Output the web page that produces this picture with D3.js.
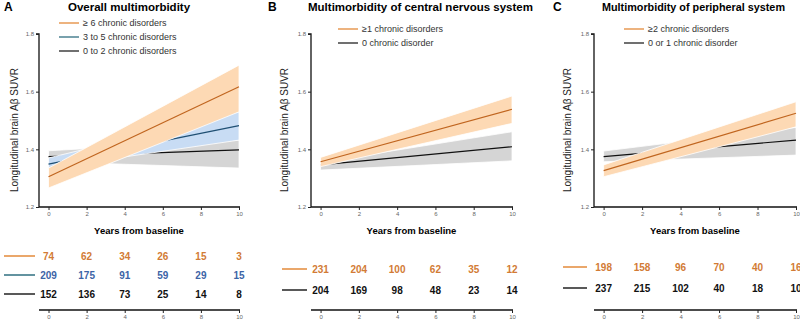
<!DOCTYPE html>
<html>
<head>
<meta charset="utf-8">
<script src="https://cdn.jsdelivr.net/npm/d3@7"></script>
<style>
  body { margin: 0; background: #fff; }
  svg { display: block; font-family: Arial, "Liberation Sans", sans-serif; }
</style>
</head>
<body>
<div id="chart"></div>
<script>
// ---- data ----
var years = [0, 2, 4, 6, 8, 10];
var yTicks = [1.2, 1.4, 1.6, 1.8];

var panelLetters = ["A", "B", "C"];
var panelTitles = ["Overall multimorbidity",
                   "Multimorbidity of central nervous system",
                   "Multimorbidity of peripheral system"];

// legend labels, panel by panel
var legendA = ["\u2265 6 chronic disorders", "3 to 5 chronic disorders", "0 to 2 chronic disorders"];
var legendB = ["\u22651 chronic disorders", "0 chronic disorder"];
var legendC = ["\u22652 chronic disorders", "0 or 1 chronic disorder"];

// fitted SUVR at year 0 and year 10, [line, lower, upper]
var fitA_high = { start: [1.305, 1.266, 1.335], end: [1.617, 1.530, 1.692] };
var fitA_mid  = { start: [1.349, 1.335, 1.370], end: [1.482, 1.432, 1.530] };
var fitA_low  = { start: [1.375, 1.357, 1.395], end: [1.398, 1.335, 1.432] };
var fitB_high = { start: [1.357, 1.340, 1.372], end: [1.539, 1.490, 1.585] };
var fitB_low  = { start: [1.346, 1.328, 1.355], end: [1.409, 1.360, 1.461] };
var fitC_high = { start: [1.326, 1.305, 1.346], end: [1.525, 1.478, 1.565] };
var fitC_low  = { start: [1.375, 1.357, 1.394], end: [1.432, 1.380, 1.476] };

// numbers at risk
var riskA_high = [74, 62, 34, 26, 15, 3];
var riskA_mid  = [209, 175, 91, 59, 29, 15];
var riskA_low  = [152, 136, 73, 25, 14, 8];
var riskB_high = [231, 204, 100, 62, 35, 12];
var riskB_low  = [204, 169, 98, 48, 23, 14];
var riskC_high = [198, 158, 96, 70, 40, 16];
var riskC_low  = [237, 215, 102, 40, 18, 10];

var colOrange = { line: "#c0651f", legend: "#e38a3a", band: "#fdd9b4", text: "#d27b35" };
var colBlue   = { line: "#1f4f73", legend: "#2f6f80", band: "#c8dcf4", text: "#3c64a6" };
var colBlack  = { line: "#111", legend: "#222", band: "#d5d5d5", text: "#111" };

var panels = [
  { axisX: 39, right: 239, series: [
      { fit: fitA_low, risk: riskA_low, col: colBlack },
      { fit: fitA_mid, risk: riskA_mid, col: colBlue },
      { fit: fitA_high, risk: riskA_high, col: colOrange }],
    legend: legendA, legendX: 59, legendY: 23, rowY: [256, 275, 294], lineL: 4, lineR: 35, ylabX: 15 },
  { axisX: 311, right: 512, series: [
      { fit: fitB_low, risk: riskB_low, col: colBlack },
      { fit: fitB_high, risk: riskB_high, col: colOrange }],
    legend: legendB, legendX: 338, legendY: 29, rowY: [269, 290], lineL: 282, lineR: 307, ylabX: 285 },
  { axisX: 594, right: 796, series: [
      { fit: fitC_low, risk: riskC_low, col: colBlack },
      { fit: fitC_high, risk: riskC_high, col: colOrange }],
    legend: legendC, legendX: 624, legendY: 29, rowY: [267, 288], lineL: 563, lineR: 587, ylabX: 568 }
];
var titleX = [68, 308, 602];
var titleSize = [11.5, 11.5, 10.8];
var letterX = [4, 268, 553];

var svg = d3.select("#chart").append("svg")
  .attr("width", 800)
  .attr("height", 320);

var y = d3.scaleLinear().domain([1.2, 1.8]).range([207, 34]);

panels.forEach(function (p, pi) {
  var x = d3.scaleLinear().domain([-0.5, 10]).range([p.axisX, p.right]);
  var g = svg.append("g");

  // title
  g.append("text").attr("x", letterX[pi]).attr("y", 11)
    .attr("font-size", 12).attr("font-weight", "bold").text(panelLetters[pi]);
  g.append("text").attr("x", titleX[pi]).attr("y", 11)
    .attr("font-size", titleSize[pi]).attr("font-weight", "bold").text(panelTitles[pi]);

  // bands and lines, back to front
  var area = d3.area()
    .x(function (d) { return x(d.t); })
    .y0(function (d) { return y(d.lo); })
    .y1(function (d) { return y(d.hi); });
  var line = d3.line()
    .x(function (d) { return x(d.t); })
    .y(function (d) { return y(d.v); });

  p.series.forEach(function (s) {
    var pts = [
      { t: 0, v: s.fit.start[0], lo: s.fit.start[1], hi: s.fit.start[2] },
      { t: 10, v: s.fit.end[0], lo: s.fit.end[1], hi: s.fit.end[2] }
    ];
    g.append("path").datum(pts).attr("d", area)
      .attr("fill", s.col.band).attr("stroke", "#fff").attr("stroke-width", 0.8);
    g.append("path").datum(pts).attr("d", line)
      .attr("fill", "none").attr("stroke", s.col.line).attr("stroke-width", 1.2);
  });

  // axes
  var yAxis = d3.axisLeft(y).tickValues(yTicks).tickSize(3).tickPadding(2)
    .tickFormat(d3.format(".1f"));
  var yg = g.append("g").attr("transform", "translate(" + p.axisX + ",0)").call(yAxis);
  var xAxis = d3.axisBottom(x).tickValues(years).tickSize(3).tickPadding(2);
  var xg = g.append("g").attr("transform", "translate(0,207)").call(xAxis);
  [yg, xg].forEach(function (a) {
    a.select(".domain").attr("stroke", "#111").attr("stroke-width", 1.3)
      .attr("d", a === yg ? "M-3,34H0V207" : "M" + p.axisX + ",0H" + (p.right + 1));
    a.selectAll(".tick line").attr("stroke", "#222");
    a.selectAll(".tick text").attr("font-size", 6).attr("fill", "#666");
  });

  // axis titles
  g.append("text")
    .attr("transform", "translate(" + p.ylabX + ",130) rotate(-90)")
    .attr("text-anchor", "middle").attr("dominant-baseline", "middle")
    .attr("font-size", 10).attr("fill", "#222").text("Longitudinal brain A\u03b2 SUVR");
  g.append("text").attr("x", (p.axisX + p.right) / 2).attr("y", 234)
    .attr("text-anchor", "middle").attr("font-size", 9.5).attr("font-weight", "bold")
    .text("Years from baseline");

  // legend (top series first)
  var legSeries = p.series.slice().reverse();
  legSeries.forEach(function (s, i) {
    var ly = p.legendY + i * 14;
    g.append("line").attr("x1", p.legendX).attr("x2", p.legendX + 20)
      .attr("y1", ly).attr("y2", ly).attr("stroke", s.col.legend).attr("stroke-width", 1.3);
    g.append("text").attr("x", p.legendX + 24).attr("y", ly)
      .attr("dominant-baseline", "central").attr("font-size", 9).attr("fill", "#333")
      .text(p.legend[i]);
  });

  // numbers at risk
  legSeries.forEach(function (s, i) {
    var ry = p.rowY[i];
    g.append("line").attr("x1", p.lineL).attr("x2", p.lineR)
      .attr("y1", ry).attr("y2", ry).attr("stroke", s.col.legend).attr("stroke-width", 1.5);
    g.selectAll(null).data(s.risk).enter().append("text")
      .attr("x", function (d, j) { return x(years[j]); })
      .attr("y", ry)
      .attr("dominant-baseline", "central").attr("text-anchor", "middle")
      .attr("font-size", 10).attr("font-weight", "bold").attr("fill", s.col.text)
      .text(function (d) { return d; });
  });

  // bottom axis under the table
  var bg = g.append("g").attr("transform", "translate(0,310)").call(xAxis);
  bg.select(".domain").attr("stroke", "#111").attr("stroke-width", 1.3)
    .attr("d", "M" + p.axisX + ",0H" + (p.right + 1));
  bg.selectAll(".tick line").attr("stroke", "#222");
  bg.selectAll(".tick text").attr("font-size", 6).attr("fill", "#666");
});
</script>
</body>
</html>
